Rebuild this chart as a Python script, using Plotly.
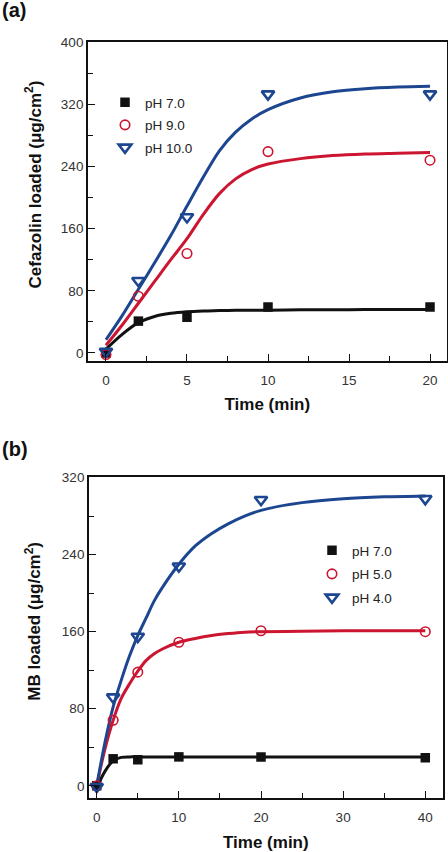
import plotly.graph_objects as go

# ---------------- Panel (a): Cefazolin ----------------
a_time = [0, 2, 5, 10, 20]
a_ph7 = [0, 41, 46, 59, 59]
a_ph9 = [-2, 73, 128, 259, 248]
a_ph10 = [2, 93, 175, 333, 333]

# fitted curves
a_fit_time = [0, 1, 2, 3, 4, 5, 6, 7, 8, 9, 10, 12, 14, 16, 18, 20]
a_fit_ph7 = [5, 24, 39, 47, 51, 53, 54, 54.5, 55, 55, 55, 55.5, 55.5, 56, 56, 56]
a_fit_ph9 = [10, 36, 64, 92, 120, 147, 178, 205, 224, 236, 243, 250, 254, 256, 257, 258]
a_fit_ph10 = [17, 48, 82, 116, 151, 189, 226, 260, 284, 301, 313, 328, 336, 340, 342, 343]

a_names = ["pH 7.0", "pH 9.0", "pH 10.0"]

# ---------------- Panel (b): MB ----------------
b_time = [0, 2, 5, 10, 20, 40]
b_ph7 = [0, 28, 27, 30, 30, 29]
b_ph5 = [0, 68, 118, 149, 161, 160]
b_ph4 = [-1, 92, 155, 228, 297, 298]

b_fit_time = [0, 1, 2, 3, 4, 5, 6, 7, 8, 10, 12, 14, 16, 18, 20, 25, 30, 35, 40]
b_fit_ph7 = [-2, 15, 26, 29.5, 30, 30, 30, 30, 30, 30, 30, 30, 30, 30, 30, 30, 30, 30, 30]
b_fit_ph5 = [0, 38, 68, 91, 106, 119, 130, 137, 142, 149, 153, 156, 158, 159.5, 160, 160.5, 161, 161, 161]
b_fit_ph4 = [0, 45, 82, 110, 135, 156, 174, 192, 206, 230, 249, 262, 272, 280, 286, 294, 298, 300, 301]

b_names = ["pH 7.0", "pH 5.0", "pH 4.0"]

# tick values
a_xticks = [0, 5, 10, 15, 20]
a_yticks = [0, 80, 160, 240, 320, 400]
b_xticks = [0, 10, 20, 30, 40]
b_yticks = [0, 80, 160, 240, 320]

FONT = "Arial, Liberation Sans, sans-serif"
BLACK = "#111111"
RED = "#cc1530"
BLUE = "#1d4690"

W, H = 448, 852

styles = [
    dict(color=BLACK, symbol="square", size=9.5, lw=0),
    dict(color=RED, symbol="circle-open", size=9.5, lw=1.6),
    dict(color=BLUE, symbol="triangle-down-open", size=11, lw=2.6),
]

fig = go.Figure()


def add_panel(xa, ya, legend, t, ys, ft, fys, names, group_prefix):
    # fitted lines first
    for fy, st in zip(fys, styles):
        fig.add_trace(go.Scatter(
            x=ft, y=fy, mode="lines", xaxis=xa, yaxis=ya,
            line=dict(color=st["color"], width=3, shape="spline", smoothing=0.9),
            showlegend=False, hoverinfo="skip"))
    for i, (y, st, nm) in enumerate(zip(ys, styles, names)):
        mk = dict(color=st["color"], symbol=st["symbol"], size=st["size"])
        if st["lw"]:
            mk["line"] = dict(color=st["color"], width=st["lw"])
        fig.add_trace(go.Scatter(
            x=t, y=y, mode="markers", xaxis=xa, yaxis=ya, name=nm,
            marker=mk, legend=legend, legendgroup=f"{group_prefix}{i}"))


add_panel("x", "y", "legend", a_time, [a_ph7, a_ph9, a_ph10], a_fit_time,
          [a_fit_ph7, a_fit_ph9, a_fit_ph10], a_names, "a")
add_panel("x2", "y2", "legend2", b_time, [b_ph7, b_ph5, b_ph4], b_fit_time,
          [b_fit_ph7, b_fit_ph5, b_fit_ph4], b_names, "b")


def axis(domain, rng, tickvals, minor_dtick, anchor, title=None, standoff=12, lblstand=None):
    d = dict(
        domain=domain, range=rng, anchor=anchor,
        showline=True, linecolor=BLACK, linewidth=1.8, mirror=True,
        ticks="inside", ticklen=7, tickwidth=1.4, tickcolor=BLACK,
        tickvals=tickvals, ticktext=[str(v) for v in tickvals],
        showgrid=False, zeroline=False, automargin=False,
        tickfont=dict(family=FONT, size=13.5, color="#333333"),
        minor=dict(ticks="inside", ticklen=5, tickwidth=1.4, tickcolor=BLACK,
                   dtick=minor_dtick, tick0=0, showgrid=False),
    )
    if lblstand is not None:
        d["ticklabelstandoff"] = lblstand
    if title:
        d["title"] = dict(text=title, font=dict(family=FONT, size=17, color=BLACK),
                          standoff=standoff)
    return d


fig.update_layout(
    width=W, height=H,
    margin=dict(l=0, r=0, t=0, b=0),
    paper_bgcolor="white", plot_bgcolor="white",
    xaxis=axis([88 / W, 446.7 / W], [-1.11, 21.03], a_xticks, 2.5, "y",
               "<b>Time (min)</b>", standoff=11, lblstand=6),
    yaxis=axis([1 - 361 / H, 1 - 42 / H], [-10.3, 400], a_yticks, 40, "x"),
    xaxis2=axis([89 / W, 442.7 / W], [-0.94, 42.12], b_xticks, 5, "y2",
                "<b>Time (min)</b>", standoff=14, lblstand=6),
    yaxis2=axis([1 - 798.3 / H, 1 - 477.3 / H], [-13, 320.3], b_yticks, 40, "x2"),
    legend=dict(x=105 / W, y=1 - 87 / H, xanchor="left", yanchor="top",
                bgcolor="rgba(0,0,0,0)", borderwidth=0,
                font=dict(family=FONT, size=13.5, color="#222222"),
                tracegroupgap=2, traceorder="grouped"),
    legend2=dict(x=312 / W, y=1 - 535 / H, xanchor="left", yanchor="top",
                 bgcolor="rgba(0,0,0,0)", borderwidth=0,
                 font=dict(family=FONT, size=13.5, color="#222222"),
                 tracegroupgap=3, traceorder="grouped"),
    annotations=[
        dict(text="<b>(a)</b>", x=0, y=1 - 10 / H, xref="paper", yref="paper",
             xanchor="left", yanchor="middle", showarrow=False,
             font=dict(family=FONT, size=20, color=BLACK)),
        dict(text="<b>(b)</b>", x=0, y=1 - 449 / H, xref="paper", yref="paper",
             xanchor="left", yanchor="middle", showarrow=False,
             font=dict(family=FONT, size=20, color=BLACK)),
        dict(text="<b>Cefazolin loaded (μg/cm<sup>2</sup>)</b>", x=33 / W, y=1 - 184.5 / H,
             xref="paper", yref="paper", xanchor="center", yanchor="middle",
             textangle=-90, showarrow=False,
             font=dict(family=FONT, size=17, color=BLACK)),
        dict(text="<b>MB loaded (μg/cm<sup>2</sup>)</b>", x=33 / W, y=1 - 621.7 / H,
             xref="paper", yref="paper", xanchor="center", yanchor="middle",
             textangle=-90, showarrow=False,
             font=dict(family=FONT, size=17, color=BLACK)),
    ],
)

fig.write_html(
    "out.html",
    config={"displayModeBar": False},
    post_script="document.body.style.margin='0';document.body.style.overflow='hidden';",
)
